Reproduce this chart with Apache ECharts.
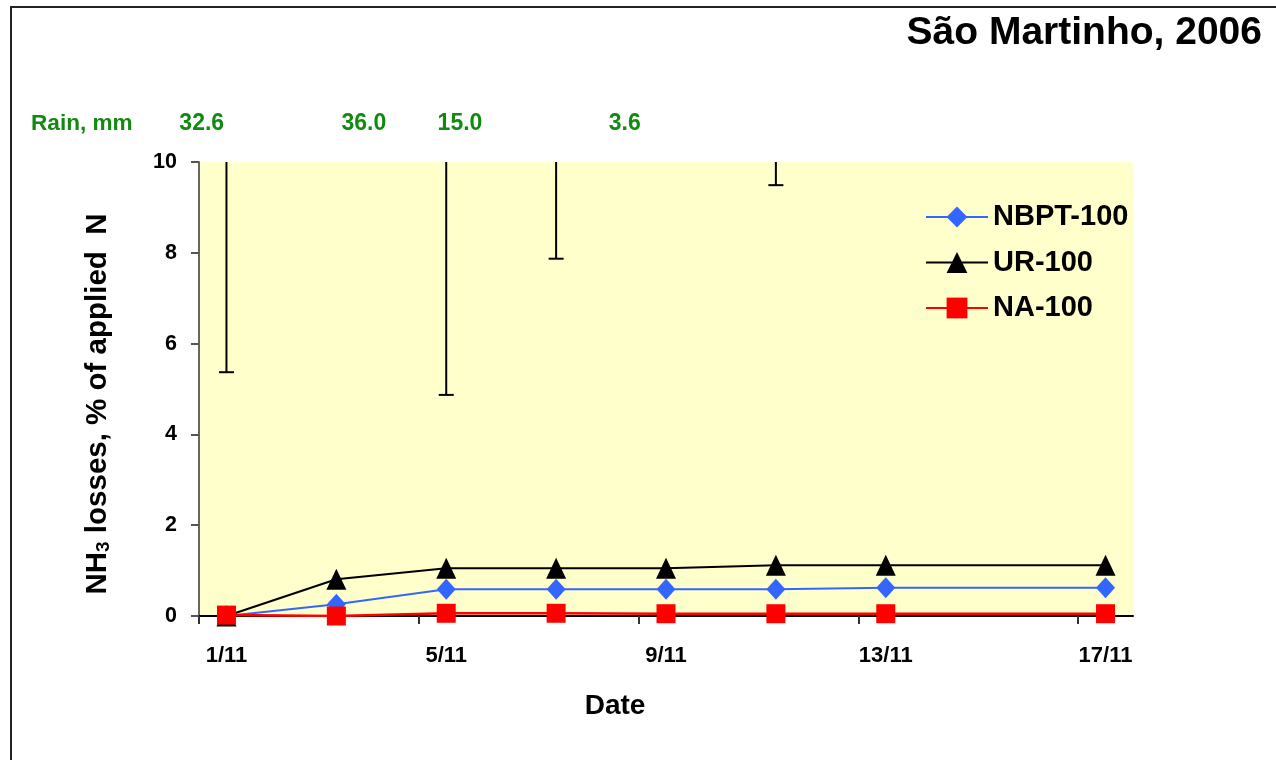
<!DOCTYPE html>
<html>
<head>
<meta charset="utf-8">
<script src="https://cdn.jsdelivr.net/npm/echarts@6/dist/echarts.min.js"></script>
<style>
  html, body { margin: 0; padding: 0; background: #fff; }
  #chart { width: 1276px; height: 760px; }
</style>
</head>
<body>
<div id="chart"></div>
<script>
const FONT = '"Liberation Sans", Arial, Helvetica, sans-serif';

// Sampling days (November 2006)
const sampleDays = [1, 3, 5, 7, 9, 11, 13, 17];
// Cumulative NH3 losses, % of applied N
const nbpt100 = [0, 0.26, 0.59, 0.59, 0.59, 0.59, 0.62, 0.62];
const ur100   = [0, 0.81, 1.05, 1.05, 1.05, 1.12, 1.12, 1.12];
const na100   = [0.02, 0, 0.06, 0.06, 0.05, 0.05, 0.05, 0.05];

// Error bars: lower ends; the upper ends run past the top of the axis
const errDays = [1, 5, 7, 11];
const errLow  = [5.37, 4.87, 7.87, 9.49];

// Rainfall events
const rainDays = [0.55, 3.5, 5.25, 8.25];
const rainMm   = ['32.6', '36.0', '15.0', '3.6'];

// Axis labelling
const xLabelDays = [1, 5, 9, 13, 17];
const xMin = 0.5, xMax = 17.5;
const yMin = 0, yMax = 10, yStep = 2;

const GREEN = '#128a12';

const chart = echarts.init(document.getElementById('chart'), null, { renderer: 'canvas' });

const lineSeries = (name, data, color, symbol, size, width) => ({
  name,
  type: 'line',
  data: sampleDays.map((d, i) => [d, data[i]]),
  symbol,
  symbolSize: size,
  showSymbol: true,
  itemStyle: { color },
  lineStyle: { color, width },
  emphasis: { disabled: true },
  z: 5
});

const option = {
  backgroundColor: '#ffffff',
  animation: false,
  grid: {
    left: 199, top: 162, right: 143, bottom: 144,
    show: true, backgroundColor: '#FFFFCC', borderWidth: 0
  },
  legend: {
    data: ['NBPT-100', 'UR-100', 'NA-100'],
    orient: 'vertical',
    left: 925, top: 202,
    padding: 0,
    itemWidth: 62, itemHeight: 26, itemGap: 15.5,
    textStyle: { fontFamily: FONT, fontSize: 29, fontWeight: 'bold', color: '#000', lineHeight: 30 }
  },
  xAxis: {
    type: 'value',
    min: xMin, max: xMax,
    name: 'Date',
    nameLocation: 'middle',
    nameGap: 76,
    nameTextStyle: { fontFamily: FONT, fontSize: 28, fontWeight: 'bold', color: '#000', padding: [0, 102, 0, 0] },
    axisLine: { show: true, onZero: false, lineStyle: { color: '#000', width: 2 } },
    axisTick: { show: true, length: 8, customValues: xLabelDays.map(d => d - 0.5), lineStyle: { color: '#333', width: 2 } },
    axisLabel: {
      customValues: xLabelDays,
      formatter: v => v + '/11',
      margin: 29,
      fontFamily: FONT, fontSize: 22, fontWeight: 'bold', color: '#000'
    },
    splitLine: { show: false }
  },
  yAxis: {
    type: 'value',
    min: yMin, max: yMax, interval: yStep,
    name: '{a|NH}{s|3}{a| losses, % of applied  N}',
    nameLocation: 'middle',
    nameRotate: 90,
    nameGap: 86,
    nameTextStyle: {
      padding: [0, 30, 0, 0],
      rich: {
        a: { fontFamily: FONT, fontSize: 29.5, fontWeight: 'bold', color: '#000', verticalAlign: 'bottom', lineHeight: 32 },
        s: { fontFamily: FONT, fontSize: 19, fontWeight: 'bold', color: '#000', verticalAlign: 'bottom', lineHeight: 20 }
      }
    },
    axisLine: { show: true, lineStyle: { color: '#666', width: 2 } },
    axisTick: { show: true, length: 8, lineStyle: { color: '#555', width: 2 } },
    axisLabel: { margin: 22, fontFamily: FONT, fontSize: 21.5, fontWeight: 'bold', color: '#000' },
    splitLine: { show: false }
  },
  graphic: [
    {
      type: 'rect', silent: true, z: 100,
      shape: { x: 11, y: 7, width: 1300, height: 800 },
      style: { fill: 'none', stroke: '#222', lineWidth: 2 }
    },
    {
      type: 'text', silent: true,
      x: 1262, y: 33,
      style: {
        text: 'São Martinho, 2006', align: 'right', verticalAlign: 'middle',
        fontFamily: FONT, fontSize: 39, fontWeight: 'bold', fill: '#000'
      }
    },
    {
      type: 'text', silent: true,
      x: 31, y: 124,
      style: {
        text: 'Rain, mm', align: 'left', verticalAlign: 'middle',
        fontFamily: FONT, fontSize: 22.6, fontWeight: 'bold', fill: GREEN
      }
    }
  ],
  series: [
    {
      name: 'errors',
      type: 'custom',
      data: errDays.map((d, i) => [d, errLow[i]]),
      z: 3,
      silent: true,
      renderItem: (params, api) => {
        const low = api.coord([api.value(0), api.value(1)]);
        const top = api.coord([api.value(0), yMax]);
        return {
          type: 'group',
          children: [
            { type: 'line', shape: { x1: low[0], y1: low[1], x2: top[0], y2: top[1] }, style: { stroke: '#000', lineWidth: 2 } },
            { type: 'line', shape: { x1: low[0] - 7.5, y1: low[1], x2: low[0] + 7.5, y2: low[1] }, style: { stroke: '#000', lineWidth: 2 } }
          ]
        };
      }
    },
    {
      name: 'rain',
      type: 'custom',
      data: rainDays.map((d, i) => [d, i]),
      silent: true,
      renderItem: (params, api) => {
        const p = api.coord([api.value(0), yMax]);
        return {
          type: 'text',
          x: p[0], y: p[1] - 38,
          style: {
            text: rainMm[params.dataIndex], align: 'center', verticalAlign: 'middle',
            fontFamily: FONT, fontSize: 23, fontWeight: 'bold', fill: GREEN
          }
        };
      }
    },
    lineSeries('NBPT-100', nbpt100, '#3366FF', 'diamond', [19, 21], 2),
    lineSeries('UR-100', ur100, '#000000', 'triangle', [20, 21], 2),
    lineSeries('NA-100', na100, '#FF0000', 'rect', [19, 19], 2.5)
  ]
};

chart.setOption(option);
</script>
</body>
</html>
